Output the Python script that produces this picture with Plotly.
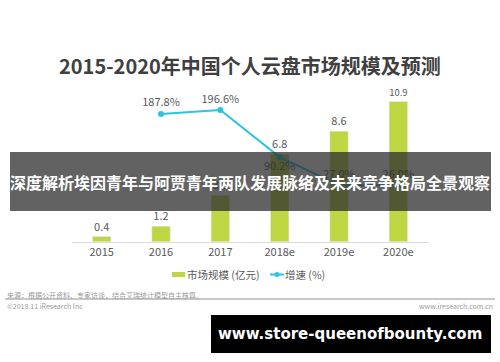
import plotly.graph_objects as go

years = ["2015", "2016", "2017", "2018e", "2019e", "2020e"]
market_size = [0.4, 1.2, 3.6, 6.8, 8.6, 10.9]
growth = [None, 187.8, 196.6, 90.2, 27.0, 26.0]
growth_labels = ["", "187.8%", "196.6%", "90.2%", "27.0%", "26.0%"]
growth_pos = ["top center", "top center", "top center", "bottom center", "top center", "top center"]
series_names = ["市场规模 (亿元)", "增速 (%)"]

BAR_COLOR = "#bdd641"
LINE_COLOR = "#2ac4e4"

W, H = 500, 362
def px(x):
    return x / W
def py(y):
    return 1 - y / H

fig = go.Figure()
fig.add_trace(go.Bar(
    x=years, y=market_size, name=series_names[0],
    marker=dict(color=BAR_COLOR), width=0.31,
    text=[str(v) for v in market_size], textposition="outside",
    textfont=dict(size=11, color="#595959"), cliponaxis=False,
))
fig.add_trace(go.Scatter(
    x=years, y=growth, name=series_names[1], yaxis="y2", mode="lines+markers+text",
    line=dict(color=LINE_COLOR, width=2), marker=dict(size=6, color=LINE_COLOR),
    text=growth_labels, textposition=growth_pos,
    textfont=dict(size=11, color="#595959"), cliponaxis=False,
))

fig.update_layout(
    width=W, height=H, margin=dict(l=0, r=0, t=0, b=0),
    paper_bgcolor="white", plot_bgcolor="white",
    font=dict(family="Noto Sans CJK SC, sans-serif", color="#595959"),
    showlegend=False,
    xaxis=dict(domain=[px(72), px(428)], showline=True, linecolor="#d9d9d9", linewidth=1,
               ticks="", tickfont=dict(size=11, color="#595959"), showgrid=False),
    yaxis=dict(domain=[py(241.7), py(90)], range=[0, 11.8], visible=False, showgrid=False),
    yaxis2=dict(overlaying="y", range=[-101, 242], visible=False, showgrid=False),
    bargap=0.5,
)

fig.add_annotation(x=0.5, y=py(65), xref="paper", yref="paper", showarrow=False,
                   text="<b>2015-2020年中国个人云盘市场规模及预测</b>",
                   font=dict(size=20, color="#404040"), xanchor="center", yanchor="middle")

# legend (drawn)
fig.add_shape(type="rect", xref="paper", yref="paper", x0=px(172), x1=px(185), y0=py(272), y1=py(277),
              fillcolor=BAR_COLOR, line=dict(width=0))
fig.add_annotation(x=px(185), y=py(274.5), xref="paper", yref="paper", showarrow=False,
                   text=series_names[0], font=dict(size=10.5, color="#595959"),
                   xanchor="left", yanchor="middle")
fig.add_shape(type="line", xref="paper", yref="paper", x0=px(270), x1=px(284), y0=py(274.5), y1=py(274.5),
              line=dict(color=LINE_COLOR, width=2))
fig.add_shape(type="circle", xref="paper", yref="paper", x0=px(274.5), x1=px(279.5), y0=py(272), y1=py(277),
              fillcolor=LINE_COLOR, line=dict(width=0))
fig.add_annotation(x=px(283), y=py(274.5), xref="paper", yref="paper", showarrow=False,
                   text=series_names[1], font=dict(size=10.5, color="#595959"),
                   xanchor="left", yanchor="middle")

# footer
fig.add_annotation(x=px(5), y=py(295), xref="paper", yref="paper", showarrow=False,
                   text="来源：根据公开资料、专家访谈，结合艾瑞统计模型自主核算。",
                   font=dict(size=7, color="#9a9a9a"), xanchor="left", yanchor="middle")
fig.add_shape(type="line", xref="paper", yref="paper", x0=px(5), x1=px(495), y0=py(299), y1=py(299),
              line=dict(color="#c8c8c8", width=2))
fig.add_annotation(x=px(5), y=py(306), xref="paper", yref="paper", showarrow=False,
                   text="©2018.11 iResearch Inc", font=dict(size=7, color="#9a9a9a"),
                   xanchor="left", yanchor="middle")
fig.add_annotation(x=px(495), y=py(306), xref="paper", yref="paper", showarrow=False,
                   text="www.iresearch.com.cn", font=dict(size=7, color="#9a9a9a"),
                   xanchor="right", yanchor="middle")

# banner overlay
fig.add_shape(type="rect", xref="paper", yref="paper", x0=px(10), x1=px(491), y0=py(152), y1=py(211),
              fillcolor="rgba(45,45,45,0.75)", line=dict(width=0), layer="above")
fig.add_annotation(x=0.5, y=py(182), xref="paper", yref="paper", showarrow=False,
                   text="<b>深度解析埃因青年与阿贾青年两队发展脉络及未来竞争格局全景观察</b>",
                   font=dict(size=16, color="white"), xanchor="center", yanchor="middle")

# watermark box
fig.add_shape(type="rect", xref="paper", yref="paper", x0=px(211), x1=px(491), y0=py(315), y1=py(353),
              fillcolor="black", line=dict(width=0), layer="above")
fig.add_annotation(x=px(350), y=py(334), xref="paper", yref="paper", showarrow=False,
                   text="<b>www.store-queenofbounty.com</b>",
                   font=dict(size=15, color="white", family="DejaVu Sans, sans-serif"),
                   xanchor="center", yanchor="middle")

fig.write_html("out.html", config={"displayModeBar": False},
               post_script="document.body.style.margin='0';")
